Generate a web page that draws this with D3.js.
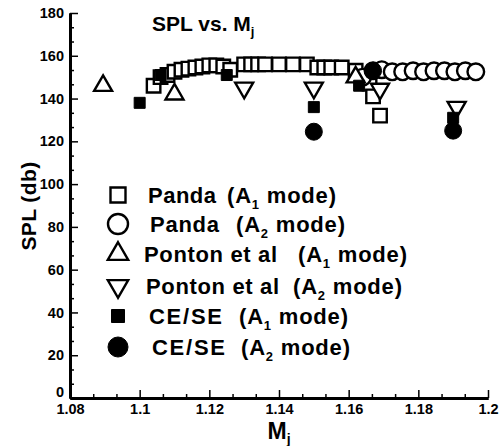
<!DOCTYPE html>
<meta charset="utf-8">
<style>
    body { margin: 0; background: #fff; }
    svg { font-family: "Liberation Sans", Arial, sans-serif; font-weight: bold; }
    .axis path { stroke: #000; stroke-width: 3px; }
    .axis line { stroke: #000; stroke-width: 1.5px; }
    .axis text { font-size: 14.5px; font-weight: bold; fill: #000; font-family: "Liberation Sans", Arial, sans-serif; }
    .open { fill: #fff; stroke: #000; stroke-width: 2.4px; }
    .filled { fill: #000; stroke: #000; stroke-width: 1px; }
</style>
<script src="https://d3js.org/d3.v7.min.js"></script>

<body>
    <div id="chart"></div>
    <script>
        // Panda, A1 mode (open squares)
        var pandaA1M = [1.104, 1.106, 1.108, 1.110, 1.112, 1.114, 1.116, 1.118, 1.120, 1.122, 1.124, 1.126,
            1.130, 1.132, 1.134, 1.136, 1.140, 1.144, 1.148, 1.151, 1.153, 1.155, 1.158, 1.162, 1.164, 1.166, 1.167, 1.169];
        var pandaA1S = [146, 150, 151, 152.5, 153.5, 154, 154.5, 155, 155.5, 155.5, 155, 153.5,
            156, 156, 156, 156, 156, 156, 156, 154.5, 154.5, 154.5, 154.5, 153, 149, 147, 141, 132];
        // Panda, A2 mode (open circles)
        var pandaA2M = [1.164, 1.167, 1.1695, 1.1725, 1.1755, 1.1785, 1.1815, 1.1845, 1.1875, 1.1905, 1.1935, 1.1965];
        var pandaA2S = [150, 153, 153.5, 152.5, 152.5, 153, 152.5, 153, 153, 152.5, 153, 152.5];
        // Ponton et al, A1 mode (triangles up)
        var pontonA1M = [1.0895, 1.110, 1.162];
        var pontonA1S = [146, 142, 150];
        // Ponton et al, A2 mode (triangles down)
        var pontonA2M = [1.130, 1.150, 1.169, 1.191];
        var pontonA2S = [145, 145, 144.5, 136];
        // CE/SE, A1 mode (filled squares)
        var ceseA1M = [1.100, 1.106, 1.125, 1.150, 1.163, 1.190];
        var ceseA1S = [138, 151, 151, 136, 146, 131];
        // CE/SE, A2 mode (filled circles)
        var ceseA2M = [1.150, 1.167, 1.190];
        var ceseA2S = [124.5, 153, 125];

        var xTicks = [1.08, 1.1, 1.12, 1.14, 1.16, 1.18, 1.2];
        var yTicks = [0, 20, 40, 60, 80, 100, 120, 140, 160, 180];

        var legendNames = ["Panda", "Panda", "Ponton et al", "Ponton et al", "CE/SE", "CE/SE"];
        var legendModes = ["1", "2", "1", "2", "1", "2"];

        var svg = d3.select("#chart")
            .append("svg")
            .attr("width", 499)
            .attr("height", 446);

        var x = d3.scaleLinear().domain([1.08, 1.2]).range([70, 488]),
            y = d3.scaleLinear().domain([0, 180]).range([398, 13]);

        var zip = function(ms, ss) {
            return ms.map(function(m, i) { return [m, ss[i]]; });
        };

        var series = [
            { data: zip(pandaA1M, pandaA1S), type: d3.symbolSquare, size: 13.5 * 13.5, cls: "open", rot: 0 },
            { data: zip(pandaA2M, pandaA2S), type: d3.symbolCircle, size: Math.PI * 8.3 * 8.3, cls: "open", rot: 0 },
            { data: zip(pontonA1M, pontonA1S), type: d3.symbolTriangle, size: 140, cls: "open", rot: 0 },
            { data: zip(pontonA2M, pontonA2S), type: d3.symbolTriangle, size: 140, cls: "open", rot: 180 },
            { data: zip(ceseA1M, ceseA1S), type: d3.symbolSquare, size: 11 * 11, cls: "filled", rot: 0 },
            { data: zip(ceseA2M, ceseA2S), type: d3.symbolCircle, size: Math.PI * 8.5 * 8.5, cls: "filled", rot: 0 }
        ];

        // minor ticks, three per major interval
        var xMinor = [], yMinor = [];
        xTicks.slice(0, -1).forEach(function(t) { xMinor.push(t + 0.02 / 3, t + 0.04 / 3); });
        yTicks.slice(0, -1).forEach(function(t) { yMinor.push(t + 20 / 3, t + 40 / 3); });

        svg.append("g")
            .attr("class", "axis")
            .attr("transform", "translate(0,398)")
            .call(d3.axisBottom(x).tickValues(xMinor).tickSizeInner(-4).tickSizeOuter(0).tickFormat(""));
        svg.append("g")
            .attr("class", "axis")
            .attr("transform", "translate(70,0)")
            .call(d3.axisLeft(y).tickValues(yMinor).tickSizeInner(-4).tickSizeOuter(0).tickFormat(""));

        svg.append("g")
            .attr("class", "axis")
            .attr("transform", "translate(0,398)")
            .call(d3.axisBottom(x).tickValues(xTicks).tickSizeInner(-8).tickSizeOuter(0).tickPadding(6)
                .tickFormat(d3.format("")));
        svg.append("g")
            .attr("class", "axis")
            .attr("transform", "translate(70,0)")
            .call(d3.axisLeft(y).tickValues(yTicks).tickSizeInner(-8).tickSizeOuter(0).tickPadding(6))
            .selectAll(".tick text")
            .attr("dy", function(d) { return d === 0 ? "-0.1em" : "0.32em"; });

        // data markers
        series.forEach(function(s) {
            svg.append("g").selectAll("path")
                .data(s.data)
                .enter().append("path")
                .attr("class", s.cls)
                .attr("transform", function(d) {
                    return "translate(" + x(d[0]) + "," + y(d[1]) + ") rotate(" + s.rot + ")";
                })
                .attr("d", d3.symbol().type(s.type).size(s.size));
        });

        // title
        var title = svg.append("text")
            .attr("x", 152)
            .attr("y", 31)
            .attr("font-size", 21)
            .text("SPL vs. M");
        title.append("tspan").attr("font-size", 13).attr("dy", 5).text("j");

        // axis titles
        var xl = svg.append("text")
            .attr("x", 279)
            .attr("y", 439)
            .attr("text-anchor", "middle")
            .attr("font-size", 23)
            .text("M");
        xl.append("tspan").attr("font-size", 14).attr("dy", 5).text("j");

        svg.append("text")
            .attr("transform", "translate(36,206) rotate(-90)")
            .attr("text-anchor", "middle")
            .attr("font-size", 21)
            .attr("letter-spacing", 0.4)
            .text("SPL (db)");

        // legend
        var legendY = [195, 224, 254, 286, 316, 347];
        var legendNameX = [148, 150, 144, 146, 149, 152];
        var legendNameW = [68, 69, 133, 133, 73, 73];
        var legendModeX = [227, 236, 298, 293, 239, 241];
        var legendMarkSize = [15 * 15, Math.PI * 10 * 10, 180, 180, 13 * 13, Math.PI * 10 * 10];

        legendY.forEach(function(ly, i) {
            var s = series[i];
            svg.append("path")
                .attr("class", s.cls)
                .attr("transform", "translate(118," + ly + ") rotate(" + s.rot + ")")
                .attr("d", d3.symbol().type(s.type).size(legendMarkSize[i]));
            svg.append("text")
                .attr("x", legendNameX[i])
                .attr("y", ly + 8)
                .attr("font-size", 22)
                .attr("textLength", legendNameW[i])
                .attr("lengthAdjust", "spacing")
                .text(legendNames[i]);
            var t = svg.append("text")
                .attr("x", legendModeX[i])
                .attr("y", ly + 8)
                .attr("font-size", 22)
                .attr("letter-spacing", 0.8);
            t.append("tspan").text("(A");
            t.append("tspan").attr("font-size", 13).attr("dy", 6).text(legendModes[i]);
            t.append("tspan").attr("dy", -6).text(" mode)");
        });
    </script>
</body>
